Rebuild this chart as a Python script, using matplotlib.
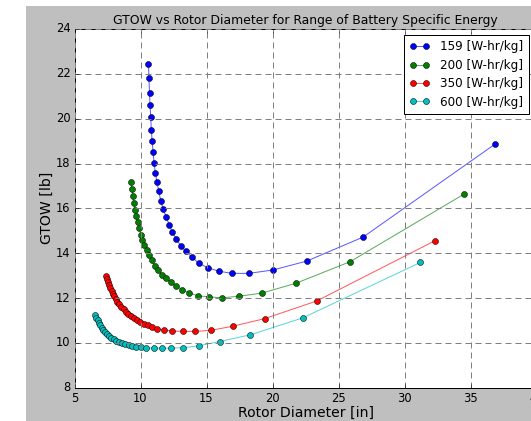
import matplotlib
matplotlib.use("Agg")
import matplotlib.pyplot as plt
from matplotlib.colors import to_rgba
from matplotlib.patches import Rectangle

plt.style.use("classic")

title = "GTOW vs Rotor Diameter for Range of Battery Specific Energy"
xlabel = "Rotor Diameter [in]"
ylabel = "GTOW [lb]"
labels = ["159 [W-hr/kg]", "200 [W-hr/kg]", "350 [W-hr/kg]", "600 [W-hr/kg]"]
colors = ["b", "g", "r", "c"]

x159 = [10.60, 10.64, 10.68, 10.72, 10.77, 10.82, 10.88, 10.95, 11.03, 11.12,
        11.24, 11.38, 11.53, 11.71, 11.93, 12.17, 12.42, 12.70, 13.05, 13.45,
        13.88, 14.40, 15.08, 15.92, 16.91, 18.20, 20.02, 22.60, 26.86, 36.88]
y159 = [22.44, 21.81, 21.16, 20.60, 20.06, 19.49, 19.00, 18.51, 18.01, 17.59,
        17.17, 16.77, 16.34, 15.97, 15.63, 15.27, 14.93, 14.63, 14.33, 14.08,
        13.83, 13.56, 13.35, 13.20, 13.10, 13.10, 13.25, 13.65, 14.72, 18.88]

x200 = [9.26, 9.35, 9.41, 9.48, 9.57, 9.66, 9.78, 9.90, 10.01, 10.14,
        10.29, 10.47, 10.67, 10.85, 11.08, 11.30, 11.60, 11.92, 12.29, 12.71,
        13.17, 13.70, 14.36, 15.17, 16.16, 17.46, 19.20, 21.77, 25.87, 34.48]
y200 = [17.16, 16.86, 16.55, 16.22, 15.94, 15.66, 15.38, 15.12, 14.83, 14.57,
        14.35, 14.13, 13.91, 13.68, 13.44, 13.24, 13.04, 12.88, 12.70, 12.52,
        12.38, 12.22, 12.10, 12.05, 12.01, 12.08, 12.22, 12.66, 13.62, 16.63]

x350 = [7.36, 7.46, 7.56, 7.64, 7.72, 7.82, 7.92, 8.02, 8.12, 8.24,
        8.39, 8.55, 8.72, 8.90, 9.08, 9.28, 9.51, 9.74, 9.99, 10.27,
        10.55, 10.85, 11.25, 11.78, 12.42, 13.19, 14.11, 15.34, 16.97, 19.39,
        23.35, 32.31]
y350 = [13.00, 12.85, 12.71, 12.58, 12.46, 12.33, 12.20, 12.08, 11.96, 11.84,
        11.72, 11.60, 11.50, 11.39, 11.29, 11.20, 11.11, 11.03, 10.94, 10.86,
        10.79, 10.71, 10.64, 10.57, 10.53, 10.51, 10.51, 10.56, 10.74, 11.08,
        11.87, 14.56]

x600 = [6.55, 6.65, 6.76, 6.86, 6.95, 7.06, 7.18, 7.31, 7.46, 7.61,
        7.79, 7.97, 8.17, 8.37, 8.60, 8.85, 9.11, 9.38, 9.68, 10.02,
        10.44, 11.00, 11.62, 12.30, 13.23, 14.41, 15.99, 18.32, 22.31, 31.20]
y600 = [11.24, 11.12, 11.01, 10.89, 10.78, 10.68, 10.57, 10.48, 10.40, 10.31,
        10.23, 10.16, 10.10, 10.04, 9.98, 9.94, 9.89, 9.86, 9.83, 9.80,
        9.78, 9.77, 9.76, 9.77, 9.78, 9.87, 10.06, 10.36, 11.12, 13.59]

xs = [x159, x200, x350, x600]
ys = [y159, y200, y350, y600]

W, H, DPI = 531, 421, 72
fig = plt.figure(figsize=(W / DPI, H / DPI), dpi=DPI, facecolor="white")
fig.patches.append(Rectangle((26 / W, 0), 1 - 26 / W, (H - 6) / H,
                             transform=fig.transFigure, facecolor="#bfbfbf",
                             edgecolor="none", zorder=-10))

ax_l, ax_r, ax_t, ax_b = 74.5, 536.7, 29.0, 387.7
ax = fig.add_axes([ax_l / W, (H - ax_b) / H, (ax_r - ax_l) / W, (ax_b - ax_t) / H])
for x, y, c, lab in zip(xs, ys, colors, labels):
    ax.plot(x, y, "-o", color=to_rgba(c, 0.65), label=lab, lw=1, ms=6,
            mfc=c, mec="k", mew=0.5)

ax.set_xlim(5, 40)
ax.set_ylim(8, 24)
ax.set_xticks(range(5, 41, 5))
ax.set_yticks(range(8, 25, 2))
ax.grid(True, color="#808080", linestyle=(0, (6, 4)), linewidth=1)
ax.tick_params(labelsize=11.5, pad=4)
ax.set_title(title, fontsize=12.4)
ax.set_xlabel(xlabel, fontsize=14)
ax.set_ylabel(ylabel, fontsize=14)
ax.xaxis.set_label_coords(0.5, -(405.5 - ax_b) / (ax_b - ax_t))
ax.yaxis.set_label_coords((54 - ax_l) / (ax_r - ax_l), 0.5)
ax.legend(loc="upper right", bbox_to_anchor=(529 / W, 1 - 35 / H),
          bbox_transform=fig.transFigure, borderaxespad=0,
          numpoints=2, fontsize=12, fancybox=False, handlelength=1.7,
          handletextpad=0.9, labelspacing=0.45, borderpad=0.45)

fig.savefig("out.png", dpi=DPI, facecolor=fig.get_facecolor())
